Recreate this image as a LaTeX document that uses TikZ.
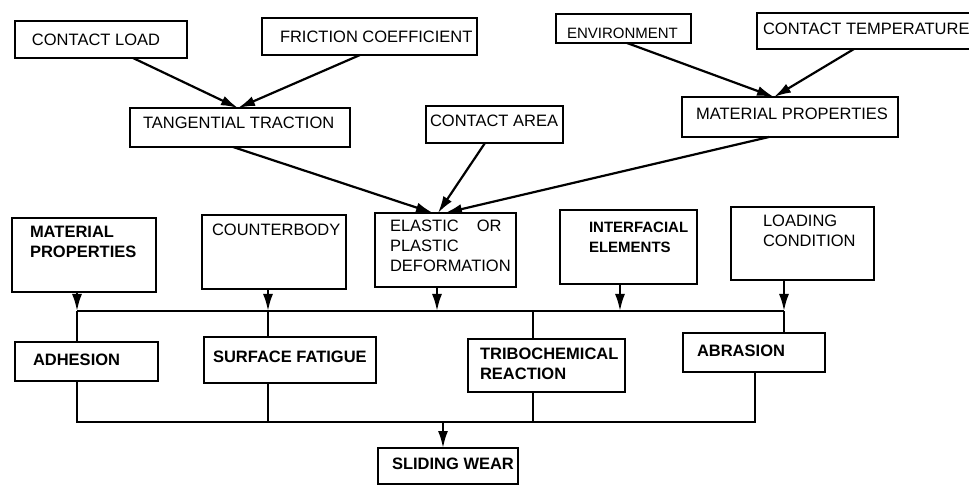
\documentclass[tikz,border=0pt]{standalone}
\usepackage{fontspec}
\setmainfont{Liberation Sans}
\usetikzlibrary{arrows.meta,calc}
\newcommand{\bxc}[5]{\parbox[c][#2pt][t]{#1pt}{\vspace*{#4pt}\hspace*{#3pt}\begin{tabular}[t]{@{}l@{}}#5\end{tabular}}}
\begin{document}
\begin{tikzpicture}[x=1pt,y=-1pt,
  bx/.style={draw, line width=2.2pt, inner sep=0pt, outer sep=0pt, anchor=north west, font=\fontsize{16.5}{20}\selectfont},
  bxr/.style={bx, font=\fontsize{15}{20}\selectfont},
  bxb/.style={bx, font=\fontsize{16.5}{20}\selectfont\bfseries},
  bxs/.style={bx, font=\fontsize{15}{20}\selectfont\bfseries},
  ln/.style={line width=2.2pt},
  arr/.style={ln, -{Latex[length=17pt,width=10pt]}}]
\useasboundingbox (0,0) rectangle (969,486);
% top row
\node[bx] (cl) at (15,21) {\bxc{172}{37}{17}{10.6}{CONTACT LOAD}};
\node[bx] (fc) at (262,18) {\bxc{215}{37}{18}{10.6}{FRICTION COEFFICIENT}};
\node[bxr] (env) at (556,14) {\bxc{135}{29}{11}{10.4}{ENVIRONMENT}};
\node[bx] (ct) at (757,13) {\bxc{220}{36}{6}{7.6}{CONTACT TEMPERATURE}};
% second row
\node[bx] (tt) at (130,108) {\bxc{220}{39}{13}{6.6}{TANGENTIAL TRACTION}};
\node[bx] (ca) at (426,106) {\bxc{137}{37}{4}{6.6}{CONTACT AREA}};
\node[bx] (mpa) at (682,97) {\bxc{216}{40}{14}{8.6}{MATERIAL PROPERTIES}};
% third row
\node[bxb] (mpb) at (12,218) {\bxc{144}{74}{18}{5.6}{MATERIAL\\PROPERTIES}};
\node[bx] (cb) at (202,215) {\bxc{144}{74}{10}{6.6}{COUNTERBODY}};
\node[bx] (el) at (375,213) {\bxc{141}{74}{15}{4.6}{ELASTIC\hspace{18pt}OR\\PLASTIC\\DEFORMATION}};
\node[bxs] (ie) at (560,210) {\bxc{137}{74}{29}{8.7}{INTERFACIAL\\ELEMENTS}};
\node[bx] (lc) at (731,207) {\bxc{143}{73}{32}{5.6}{LOADING\\CONDITION}};
% fourth row
\node[bxb] (ad) at (15,342) {\bxc{143}{39}{18}{9.6}{ADHESION}};
\node[bxb] (sf) at (204,337) {\bxc{172}{46}{9}{11.6}{SURFACE FATIGUE}};
\node[bxb] (tr) at (468,339) {\bxc{157}{53}{12}{6.6}{TRIBOCHEMICAL\\REACTION}};
\node[bxb] (ab) at (683,333) {\bxc{142}{39}{14}{9.6}{ABRASION}};
% bottom
\node[bxb] (sw) at (378,448) {\bxc{140}{36}{14}{7.6}{SLIDING WEAR}};
% helper coordinates
\coordinate (xa) at (77,0);
\coordinate (xb) at (268,0);
\coordinate (xc) at (437,0);
\coordinate (xd) at (620,0);
\coordinate (xe) at (784,0);
\coordinate (xf) at (533,0);
\coordinate (xg) at (755,0);
\coordinate (xh) at (443,0);
\coordinate (busa) at (0,311);
\coordinate (busb) at (0,422);
% top arrows
\draw[arr] ($(cl.south west)+(118,0)$) -- ($(tt.north west)+(108,0)$);
\draw[arr] ($(fc.south west)+(98,0)$) -- ($(tt.north west)+(108,0)$);
\draw[arr] ($(env.south west)+(71,0)$) -- ($(mpa.north west)+(92,0)$);
\draw[arr] ($(ct.south west)+(97,0)$) -- ($(mpa.north west)+(92,0)$);
\draw[arr] ($(tt.south west)+(103,0)$) -- ($(el.north west)+(58,0)$);
\draw[arr] ($(ca.south west)+(59,0)$) -- ($(el.north west)+(63,0)$);
\draw[arr] ($(mpa.south west)+(87,0)$) -- ($(el.north west)+(70,0)$);
% upper bus
\draw[ln] (xa |- busa) -- (xe |- busa);
\draw[arr] (mpb.south -| xa) -- (xa |- busa);
\draw[arr] (cb.south -| xb) -- (xb |- busa);
\draw[arr] (el.south -| xc) -- (xc |- busa);
\draw[arr] (ie.south -| xd) -- (xd |- busa);
\draw[arr] (lc.south -| xe) -- (xe |- busa);
\draw[ln] (xa |- busa) -- (ad.north -| xa);
\draw[ln] (xb |- busa) -- (sf.north -| xb);
\draw[ln] (xf |- busa) -- (tr.north -| xf);
\draw[ln] (xe |- busa) -- (ab.north -| xe);
% lower bus
\draw[ln] (ad.south -| xa) -- (xa |- busb) -- (xg |- busb) -- (ab.south -| xg);
\draw[ln] (sf.south -| xb) -- (xb |- busb);
\draw[ln] (tr.south -| xf) -- (xf |- busb);
\draw[arr] (xh |- busb) -- (sw.north -| xh);
\end{tikzpicture}
\end{document}
